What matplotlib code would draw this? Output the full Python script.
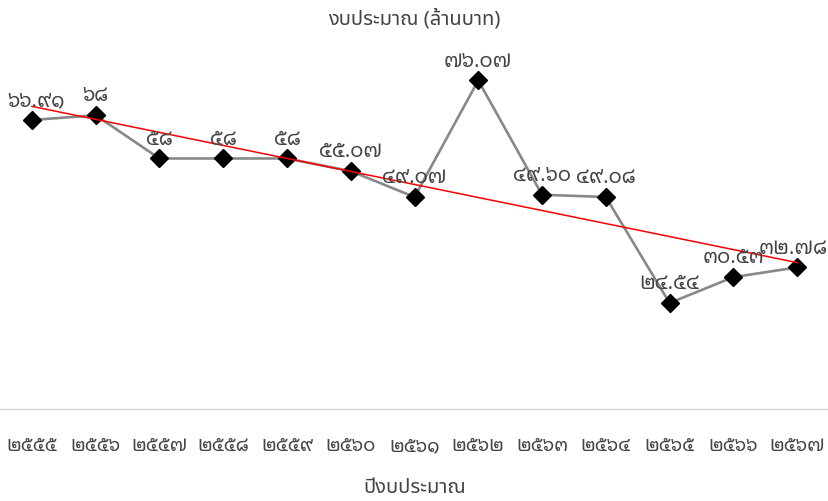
import matplotlib
matplotlib.use("Agg")
import matplotlib.pyplot as plt
import numpy as np

# Fiscal years (B.E.) and budget in million baht
years = [2555, 2556, 2557, 2558, 2559, 2560, 2561, 2562, 2563, 2564, 2565, 2566, 2567]
budget = [66.91, 68, 58, 58, 58, 55.07, 49.07, 76.07, 49.60, 49.08, 24.54, 30.53, 32.78]
budget_labels = ["66.91", "68", "58", "58", "58", "55.07", "49.07", "76.07", "49.60", "49.08", "24.54", "30.53", "32.78"]

THAI_DIGITS = str.maketrans("0123456789", "๐๑๒๓๔๕๖๗๘๙")


def thai(s):
    return str(s).translate(THAI_DIGITS)


TEXT_FONT = ["Noto Sans Thai", "DejaVu Sans"]
NUM_FONT = ["Noto Sans Thai Looped", "Noto Sans Thai", "DejaVu Sans"]

fig = plt.figure(figsize=(8.29, 5.01), dpi=100)
ax = fig.add_axes([0.0, 0.1836, 1.0, 0.6898])

x = np.arange(len(years))
ax.plot(x, budget, color="#888888", linewidth=1.9, zorder=2,
        marker="D", markersize=9, markerfacecolor="black", markeredgecolor="black")

# linear trendline
slope, intercept = np.polyfit(x, budget, 1)
ax.plot(x, slope * x + intercept, color="red", linewidth=1.1, zorder=3)

labels = []
for xi, yi, lab in zip(x, budget, budget_labels):
    t = ax.annotate(thai(lab), (xi, yi), xytext=(0, 10), textcoords="offset points",
                    ha="center", va="baseline", fontsize=14.5,
                    color="#444444", family=NUM_FONT)
    labels.append(t)

ax.set_xlim(-0.5, len(years) - 0.5)
ax.set_ylim(0, 80)
ax.set_xticks(x)
ax.set_xticklabels([thai(y) for y in years], family=NUM_FONT, fontsize=13.5,
                   color="#444444")
ax.tick_params(axis="x", length=0, pad=20)
ax.set_yticks([])
for side in ["top", "left", "right"]:
    ax.spines[side].set_visible(False)
ax.spines["bottom"].set_color("#d9d9d9")
ax.spines["bottom"].set_linewidth(1.0)

fig.text(0.5, 0.962, "งบประมาณ (ล้านบาท)", ha="center", va="center",
         fontsize=14.5, color="#444444", family=TEXT_FONT)
fig.text(0.5, 0.026, "ปีงบประมาณ", ha="center", va="center",
         fontsize=14.5, color="#444444", family=TEXT_FONT)

# keep the data labels inside the canvas
fig.canvas.draw()
renderer = fig.canvas.get_renderer()
W = fig.bbox.width
for t in labels:
    bb = t.get_window_extent(renderer)
    dx = 0
    if bb.x0 < 7:
        dx = 7 - bb.x0
    elif bb.x1 > W - 1:
        dx = (W - 1) - bb.x1
    if dx:
        ox, oy = t.xyann
        t.xyann = (ox + dx * 72 / fig.dpi, oy)

fig.savefig("out.png", dpi=100, facecolor="white")
